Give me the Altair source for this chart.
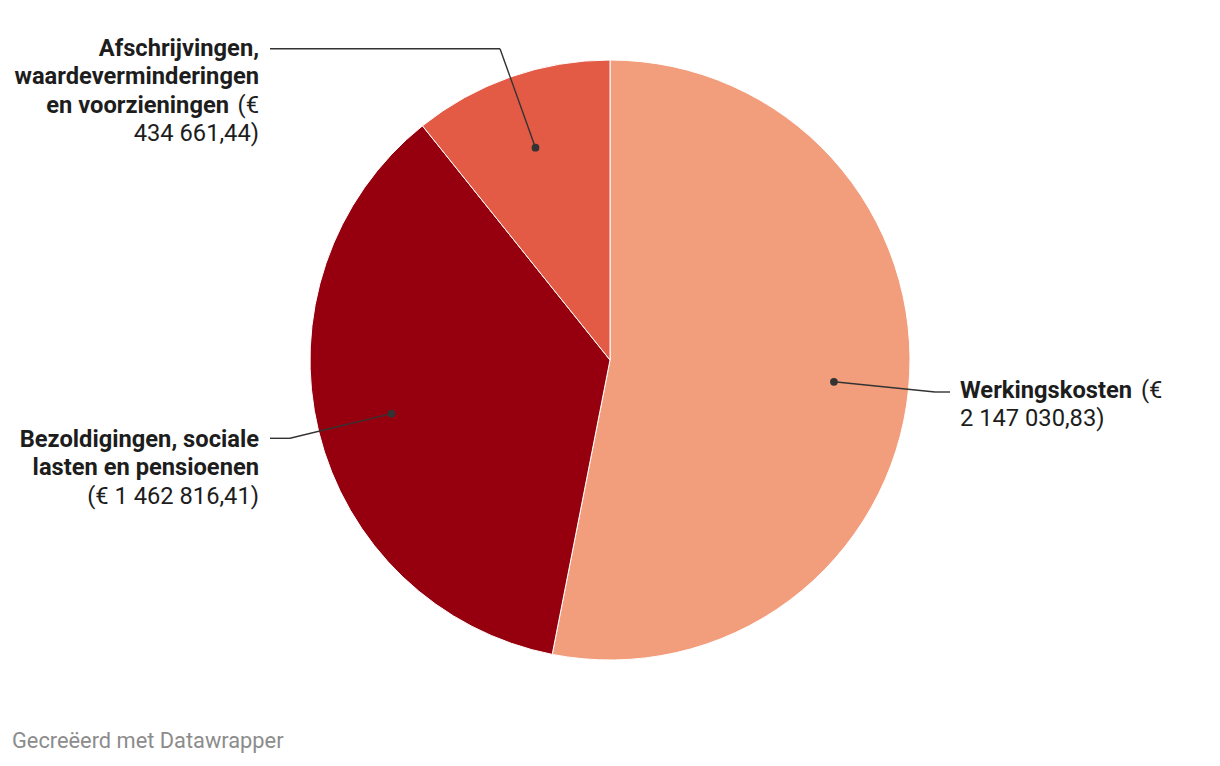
import altair as alt
import pandas as pd

# ---------------- data ----------------
categories = [
    "Werkingskosten",
    "Bezoldigingen, sociale lasten en pensioenen",
    "Afschrijvingen, waardeverminderingen en voorzieningen",
]
values = [2147030.83, 1462816.41, 434661.44]
colors = ["#f29e7c", "#96000e", "#e35a45"]

# label lines per category: (bold part, regular part)
label_lines = [
    [("Werkingskosten", "(€"), ("", "2 147 030,83)")],
    [("Bezoldigingen, sociale", ""), ("lasten en pensioenen", ""), ("", "(€ 1 462 816,41)")],
    [("Afschrijvingen,", ""), ("waardeverminderingen", ""), ("en voorzieningen", "(€"), ("", "434 661,44)")],
]
footer = "Gecreëerd met Datawrapper"

# ---------------- layout (pixels) ----------------
W, H = 1204, 748
CX, CY, R = 602, 352, 300
DOT_R = 0.75 * R
LINE_H = 28.3
FONT = "Roboto"
FS = 23.7
# connector elbow / end points and label anchors, per category
elbow = [(927, 384), (282, 430.3), (492, 40.7)]
end = [(942, 384), (262, 430.3), (262, 40.7)]
side = ["left", "right", "right"]
anchor_x = [952, 251, 251]
first_base = [389.7, 439, 48]
BOLD_W = {"Werkingskosten": 181}  # bold width + space, for left-aligned mixed line
REG_GAP = 30  # width of " (€" for right-aligned mixed line

df = pd.DataFrame({
    "idx": list(range(len(categories))),
    "category": categories,
    "value": values,
    "elx": [e[0] for e in elbow],
    "ely": [e[1] for e in elbow],
    "enx": [e[0] for e in end],
    "eny": [e[1] for e in end],
})

rows = []
for i, lines in enumerate(label_lines):
    for j, (b, r) in enumerate(lines):
        y = first_base[i] + j * LINE_H
        x = anchor_x[i]
        if side[i] == "right":
            if r:
                rows.append({"t": r, "x": x, "y": y, "w": "normal", "a": "right"})
            if b:
                rows.append({"t": b, "x": x - (REG_GAP if r else 0), "y": y, "w": "bold", "a": "right"})
        else:
            if b:
                rows.append({"t": b, "x": x, "y": y, "w": "bold", "a": "left"})
            if r:
                rows.append({"t": r, "x": x + (BOLD_W.get(b, 0) if b else 0), "y": y, "w": "normal", "a": "left"})
labels = pd.DataFrame(rows)

base = alt.Chart(df)

arcs = base.mark_arc(outerRadius=R, stroke="white", strokeWidth=1).encode(
    theta=alt.Theta("value:Q", stack=True),
    color=alt.Color("category:N", scale=alt.Scale(domain=categories, range=colors), legend=None),
    order=alt.Order("idx:Q"),
    x=alt.value(CX),
    y=alt.value(CY),
)

pts = base.transform_joinaggregate(total="sum(value)").transform_window(
    cum="sum(value)", sort=[alt.SortField("idx")], frame=[None, 0]
).transform_calculate(
    mid="2*PI*(datum.cum - datum.value/2)/datum.total",
).transform_calculate(
    px=f"{CX} + {DOT_R}*sin(datum.mid)",
    py=f"{CY} - {DOT_R}*cos(datum.mid)",
)

seg1 = pts.mark_rule(color="#333333", strokeWidth=1.4).encode(
    x=alt.X("px:Q", scale=None, axis=None),
    y=alt.Y("py:Q", scale=None, axis=None),
    x2="elx:Q",
    y2="ely:Q",
)
seg2 = base.mark_rule(color="#333333", strokeWidth=1.4).encode(
    x=alt.X("elx:Q", scale=None, axis=None),
    y=alt.Y("ely:Q", scale=None, axis=None),
    x2="enx:Q",
    y2="eny:Q",
)
dots = pts.mark_circle(size=60, color="#333333", opacity=1).encode(
    x=alt.X("px:Q", scale=None, axis=None),
    y=alt.Y("py:Q", scale=None, axis=None),
)

lab = alt.Chart(labels)
text_layers = []
for w in ["bold", "normal"]:
    for a in ["left", "right"]:
        text_layers.append(
            lab.transform_filter(f"datum.w == '{w}' && datum.a == '{a}'").mark_text(
                font=FONT, fontSize=FS, fontWeight=w, align=a, baseline="alphabetic", color="#1d1d1d"
            ).encode(
                x=alt.X("x:Q", scale=None, axis=None),
                y=alt.Y("y:Q", scale=None, axis=None),
                text="t:N",
            )
        )

foot = alt.Chart(pd.DataFrame({"t": [footer]})).mark_text(
    font=FONT, fontSize=21.8, align="left", baseline="alphabetic", color="#8c8c8c"
).encode(x=alt.value(4), y=alt.value(740), text="t:N")

chart = alt.layer(arcs, seg1, seg2, dots, *text_layers, foot).properties(
    width=W, height=H, padding=0, autosize="none", background="white"
).configure(font=FONT).configure_view(stroke="transparent", strokeWidth=0).configure_axis(
    domain=False, grid=False, ticks=False, labels=False
)

chart.save("out.html", embed_options={"renderer": "svg", "actions": False})
